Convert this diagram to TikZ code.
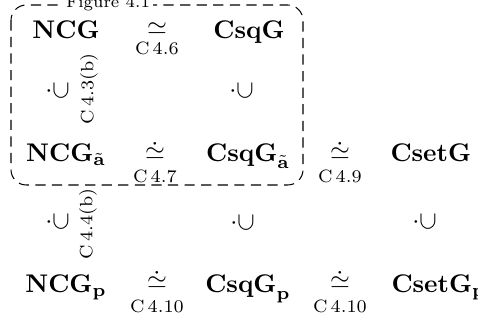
\documentclass[tikz,border=0pt]{standalone}
\usepackage{amsmath}
\begin{document}
\begin{tikzpicture}[x=0.392pt,y=-0.392pt,
  obj/.style={inner sep=0pt, anchor=base},
  objw/.style={inner sep=0pt, anchor=base west},
  rel/.style={inner sep=0pt, anchor=center},
  lbl/.style={inner sep=0pt, anchor=base, font=\scriptsize},
  inc/.style={inner sep=0pt, anchor=center, rotate=90},
  inclbl/.style={inner sep=0pt, anchor=center, rotate=90, font=\scriptsize},
  framebox/.style={draw, line width=0.4pt, dash pattern=on 4pt off 2.5pt, rounded corners=6pt}]
\useasboundingbox (0,0) rectangle (478,322);
% frame
\coordinate (fa) at (11,5);
\coordinate (fb) at (303,185);
\draw[framebox] (fa) rectangle (fb);
\node[inner sep=1pt, anchor=base, fill=white, font=\fontsize{6.5}{7}\selectfont] (figlbl) at (108,8) {Figure 4.1};
% row 1
\node[obj] (ncg) at (66,39) {$\mathbf{NCG}$};
\node[rel] (s1) at (157,29) {$\simeq$};
\node[lbl] (l1) at (157,55) {C\,4.6};
\node[obj] (csqg) at (249,39) {$\mathbf{CsqG}$};
% inclusions 1
\node[inc] (i1) at (58,91) {$\dot\subset$};
\node[inclbl] (il1) at (89,89) {C\,4.3(b)};
\node[inc] (i2) at (242,91) {$\dot\subset$};
% row 2
\node[obj] (ncga) at (66,162) {$\mathbf{NCG}_{\tilde{\mathbf{a}}}$};
\node[rel] (s2) at (155,151) {$\dot\simeq$};
\node[lbl] (l2) at (155,183) {C\,4.7};
\node[obj] (csqga) at (248,162) {$\mathbf{CsqG}_{\tilde{\mathbf{a}}}$};
\node[rel] (s3) at (340,151) {$\dot\simeq$};
\node[lbl] (l3) at (340,183) {C\,4.9};
\node[objw] (csetg) at (390,162) {$\mathbf{CsetG}$};
% inclusions 2
\node[inc] (i3) at (58,222) {$\dot\subset$};
\node[inclbl] (il3) at (88,224) {C\,4.4(b)};
\node[inc] (i4) at (243,223) {$\dot\subset$};
\node[inc] (i5) at (425,222) {$\dot\subset$};
% row 4
\node[obj] (ncgp) at (66,293) {$\mathbf{NCG}_{\mathbf{p}}$};
\node[rel] (s4) at (157,280) {$\dot\simeq$};
\node[lbl] (l4) at (157,313) {C\,4.10};
\node[obj] (csqgp) at (248,293) {$\mathbf{CsqG}_{\mathbf{p}}$};
\node[rel] (s5) at (340,280) {$\dot\simeq$};
\node[lbl] (l5) at (340,313) {C\,4.10};
\node[objw] (csetgp) at (391,293) {$\mathbf{CsetG}_{\mathbf{p}}$};
\end{tikzpicture}
\end{document}
